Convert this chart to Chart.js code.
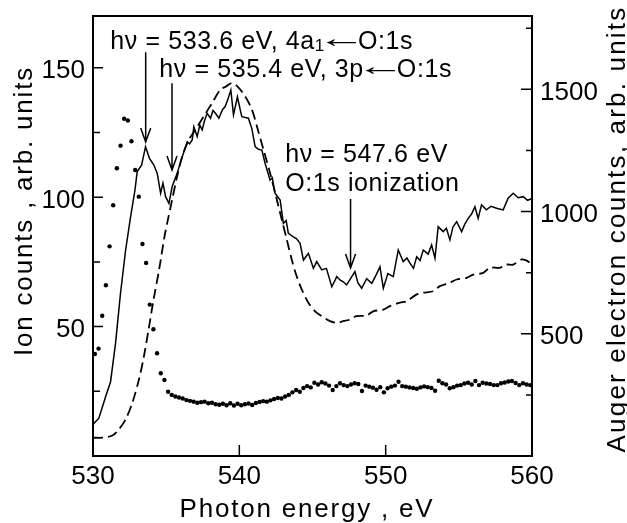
<!DOCTYPE html>
<html>
<head>
<meta charset="utf-8">
<script src="https://cdn.jsdelivr.net/npm/chart.js@4.4.0/dist/chart.umd.min.js"></script>
<style>
    html, body { margin: 0; padding: 0; background: #fff; }
    canvas { display: block; }
</style>
</head>
<body>
<canvas id="spectrum" width="627" height="523"></canvas>
<script>
// ---- Data ----

// Ion yield, solid line (left axis)
const ionE = [
    530.0, 530.4, 530.86, 531.2, 531.54, 531.88, 532.23, 532.57, 532.87, 533.02,
    533.32, 533.59, 533.86, 534.16, 534.39, 534.62, 534.78, 534.96, 535.19, 535.41,
    535.75, 536.1, 536.44, 536.6, 536.78, 536.89, 537.12, 537.3, 537.46, 537.62,
    537.8, 538.03, 538.2, 538.37, 538.6, 538.85, 539.03, 539.2, 539.42, 539.6,
    539.87, 540.05, 540.17, 540.4, 540.62, 540.85, 541.08, 541.3, 541.54, 541.76,
    542.1, 542.25, 542.44, 542.79, 543.01, 543.2, 543.35, 543.69, 543.9, 544.15,
    544.38, 544.72, 545.06, 545.29, 545.63, 545.95, 546.32, 546.66, 546.88, 547.1,
    547.33, 547.6, 547.9, 548.1, 548.36, 548.7, 549.05, 549.35, 549.61, 549.84,
    550.15, 550.52, 550.86, 551.2, 551.45, 551.66, 551.9, 552.12, 552.35, 552.57,
    552.9, 553.14, 553.37, 553.59, 553.93, 554.15, 554.39, 554.6, 554.85, 555.19,
    555.4, 555.64, 555.87, 556.1, 556.32, 556.55, 556.89, 557.2, 557.58, 558.03,
    558.37, 558.72, 559.05, 559.4, 559.7, 560.0
];
const ionCounts = [
    12.2, 14.6, 22.9, 28.7, 43.5, 62.9, 79.6, 92.5, 102.8, 109.9,
    112.4, 119.5, 115.0, 112.4, 109.2, 101.5, 105.4, 100.2, 97.6, 104.1,
    109.2, 115.6, 121.4, 120.6, 122.1, 127.2, 123.4, 127.8, 126.0, 129.5,
    132.4, 130.5, 133.5, 132.4, 130.5, 133.8, 135.0, 137.5, 141.4, 131.8,
    138.8, 134.0, 131.1, 130.8, 130.5, 126.6, 119.5, 118.5, 118.2, 113.1,
    106.6, 107.5, 101.5, 98.9, 89.9, 91.0, 86.0, 84.7, 84.0, 82.2,
    75.7, 78.3, 72.5, 75.1, 71.9, 72.5, 65.4, 69.3, 68.0, 67.3,
    66.1, 68.5, 71.2, 67.0, 64.8, 68.5, 66.7, 70.0, 73.1, 64.8,
    70.5, 69.3, 79.6, 75.1, 76.5, 74.5, 72.5, 77.0, 75.5, 79.6,
    78.0, 81.5, 76.4, 88.6, 86.7, 88.0, 83.5, 88.5, 90.5, 86.7,
    89.5, 91.8, 93.5, 96.3, 91.8, 97.0, 95.1, 96.5, 95.7, 95.1,
    99.6, 101.5, 99.8, 100.2, 98.8, 99.5
];

// Auger electron yield, dashed line (right axis)
const augerE = [
    530.0, 530.63, 531.32, 531.77, 532.23, 532.69, 533.14, 533.48, 533.8, 534.14,
    534.52, 534.89, 535.12, 535.41, 535.75, 536.1, 536.55, 537.0, 537.57, 538.14,
    538.71, 539.1, 539.49, 539.9, 540.4, 540.86, 541.2, 541.65, 542.1, 542.56,
    542.9, 543.24, 543.58, 543.92, 544.27, 544.72, 545.18, 545.63, 546.2, 546.66,
    547.0, 547.56, 548.0, 548.7, 549.15, 549.84, 550.29, 550.98, 551.43, 552.12,
    552.57, 553.25, 553.71, 554.39, 554.85, 555.53, 555.98, 556.66, 557.12, 557.8,
    558.26, 558.71, 559.29, 559.6, 559.86
];
const augerCounts = [
    75, 75, 84, 109, 150, 218, 313, 408, 518, 640,
    763, 899, 967, 1049, 1144, 1226, 1294, 1335, 1390, 1444,
    1499, 1512, 1526, 1510, 1471, 1417, 1349, 1253, 1158, 1049,
    967, 886, 804, 735, 681, 627, 592, 572, 552, 545,
    550, 558, 572, 575, 592, 599, 613, 627, 633, 661,
    668, 674, 695, 709, 722, 729, 742, 749, 770, 770,
    783, 783, 804, 800, 790
];

// Fragment ion yield, dots (left axis)
const dotE = [
    530.13, 530.38, 530.63, 530.88, 531.13, 531.38, 531.63, 531.88, 532.13, 532.38,
    532.63, 532.88, 533.13, 533.38, 533.63, 533.88, 534.13, 534.38, 534.63, 534.88,
    535.13, 535.38, 535.63, 535.88, 536.13, 536.38, 536.63, 536.88, 537.13, 537.38,
    537.63, 537.88, 538.13, 538.38, 538.63, 538.88, 539.13, 539.38, 539.63, 539.88,
    540.13, 540.38, 540.63, 540.88, 541.13, 541.38, 541.63, 541.88, 542.13, 542.38,
    542.63, 542.88, 543.13, 543.38, 543.63, 543.88, 544.13, 544.38, 544.63, 544.88,
    545.13, 545.38, 545.63, 545.88, 546.13, 546.38, 546.63, 546.88, 547.13, 547.38,
    547.63, 547.88, 548.13, 548.38, 548.63, 548.88, 549.13, 549.38, 549.63, 549.88,
    550.13, 550.38, 550.63, 550.88, 551.13, 551.38, 551.63, 551.88, 552.13, 552.38,
    552.63, 552.88, 553.13, 553.38, 553.63, 553.88, 554.13, 554.38, 554.63, 554.88,
    555.13, 555.38, 555.63, 555.88, 556.13, 556.38, 556.63, 556.88, 557.13, 557.38,
    557.63, 557.88, 558.13, 558.38, 558.63, 558.88, 559.13, 559.38, 559.63, 559.88
];
const dotCounts = [
    39.4, 41.5, 54.2, 66.0, 81.0, 96.9, 111.2, 119.9, 130.3, 129.6,
    121.6, 110.5, 100.2, 81.9, 74.6, 58.5, 49.0, 39.7, 32.0, 29.4,
    24.8, 23.6, 23.0, 22.6, 22.2, 21.6, 21.3, 21.0, 20.6, 20.8,
    21.0, 20.4, 20.6, 20.0, 19.8, 20.2, 19.6, 20.4, 19.5, 20.2,
    19.6, 20.0, 20.3, 19.7, 20.5, 20.9, 21.2, 21.0, 21.5, 22.0,
    22.4, 22.2, 23.0, 23.6, 24.6, 25.5, 24.8, 26.3, 27.0, 26.5,
    28.3, 27.6, 28.5, 28.0, 27.2, 25.5, 27.0, 28.1, 27.4, 27.0,
    27.6, 28.1, 27.8, 25.1, 27.2, 26.8, 26.4, 25.6, 26.6, 24.6,
    26.2, 26.8, 27.2, 28.7, 27.0, 26.8, 26.5, 26.3, 26.0, 26.5,
    26.9, 26.6, 26.3, 25.2, 29.1, 28.1, 27.6, 26.2, 26.6, 27.2,
    27.4, 28.0, 28.3, 27.6, 29.0, 27.4, 28.3, 28.0, 27.8, 27.4,
    27.4, 28.1, 28.4, 28.8, 29.0, 28.2, 27.4, 28.1, 27.6, 27.4
];

// Axis labels
const xTicks = [530, 540, 550, 560];
const ionTicks = [50, 100, 150];
const ionMinor = [25, 75, 125];
const augerTicks = [500, 1000, 1500];
const augerMinor = [250, 750, 1250, 1750];

// Arrows: energy, top and tip in ion-count units
const arrows = [
    { e: 533.6, from: 156, to: 121.3 },
    { e: 535.4, from: 144, to: 110.5 },
    { e: 547.6, from: 99.3, to: 72.6 }
];

const FONT = "'Liberation Sans', Arial, Helvetica, sans-serif";

const toXY = (xs, ys) => xs.map((x, i) => ({ x: x, y: ys[i] }));

// ---- Custom drawing: frame, inward ticks, labels, notes ----
const decorations = {
    id: 'decorations',
    afterDraw(chart) {
        const ctx = chart.ctx;
        const a = chart.chartArea;
        const xs = chart.scales.x;
        const yl = chart.scales.yIon;
        const yr = chart.scales.yAuger;

        ctx.save();
        ctx.strokeStyle = '#000';
        ctx.fillStyle = '#000';

        // frame
        ctx.lineWidth = 2;
        ctx.strokeRect(a.left, a.top, a.right - a.left, a.bottom - a.top);

        // inward tick marks
        ctx.lineWidth = 1.5;
        ctx.beginPath();
        [540, 550].forEach(v => {
            const px = xs.getPixelForValue(v);
            ctx.moveTo(px, a.bottom); ctx.lineTo(px, a.bottom - 11);
        });
        ionTicks.forEach(v => {
            const py = yl.getPixelForValue(v);
            ctx.moveTo(a.left, py); ctx.lineTo(a.left + 10, py);
        });
        ionMinor.forEach(v => {
            const py = yl.getPixelForValue(v);
            ctx.moveTo(a.left, py); ctx.lineTo(a.left + 7, py);
        });
        augerTicks.forEach(v => {
            const py = yr.getPixelForValue(v);
            ctx.moveTo(a.right, py); ctx.lineTo(a.right - 11, py);
        });
        augerMinor.forEach(v => {
            const py = yr.getPixelForValue(v);
            ctx.moveTo(a.right, py); ctx.lineTo(a.right - 6, py);
        });
        ctx.stroke();

        // tick labels
        ctx.letterSpacing = '0px';
        ctx.font = `26px ${FONT}`;
        ctx.textBaseline = 'alphabetic';
        ctx.textAlign = 'center';
        xTicks.forEach(v => ctx.fillText(String(v), xs.getPixelForValue(v), a.bottom + 28));
        ctx.textAlign = 'right';
        ionTicks.forEach(v => ctx.fillText(String(v), a.left - 8, yl.getPixelForValue(v) + 10.5));
        ctx.textAlign = 'left';
        augerTicks.forEach(v => ctx.fillText(String(v), a.right + 8, yr.getPixelForValue(v) + 10.5));

        // arrows
        ctx.lineWidth = 1.5;
        arrows.forEach(ar => {
            const px = xs.getPixelForValue(ar.e);
            const y0 = yl.getPixelForValue(ar.from);
            const y1 = yl.getPixelForValue(ar.to);
            ctx.beginPath();
            ctx.moveTo(px, y0); ctx.lineTo(px, y1);
            ctx.moveTo(px - 5, y1 - 14); ctx.lineTo(px, y1); ctx.lineTo(px + 5, y1 - 14);
            ctx.stroke();
        });

        // axis titles
        ctx.letterSpacing = '1.8px';
        ctx.font = `26px ${FONT}`;
        ctx.textAlign = 'center';
        ctx.fillText('Photon energy , eV', 307, 517);

        ctx.save();
        ctx.translate(32, 211);
        ctx.rotate(-Math.PI / 2);
        ctx.fillText('Ion counts , arb. units', 0, 0);
        ctx.restore();

        ctx.letterSpacing = '2.2px';
        ctx.save();
        ctx.translate(625, 229);
        ctx.rotate(-Math.PI / 2);
        ctx.fillText('Auger electron counts, arb. units', 0, 0);
        ctx.restore();

        // notes above the curves
        ctx.textAlign = 'left';
        const note = (parts, e, v) => {
            let x = xs.getPixelForValue(e);
            const y = yl.getPixelForValue(v);
            parts.forEach(p => {
                if (p.arrow) {
                    // thin left arrow glyph, stretched so its ink is 30px wide
                    ctx.letterSpacing = '0px';
                    ctx.font = `26px ${FONT}`;
                    const m = ctx.measureText('\u2190');
                    const ink = m.actualBoundingBoxLeft + m.actualBoundingBoxRight;
                    const sx = 30 / ink;
                    ctx.save();
                    ctx.translate(x + 2 + m.actualBoundingBoxLeft * sx, y - 2);
                    ctx.scale(sx, 1);
                    ctx.fillText('\u2190', 0, 0);
                    ctx.restore();
                    x += 33;
                    return;
                }
                ctx.letterSpacing = '0.6px';
                ctx.font = p.sub ? `17px ${FONT}` : `25px ${FONT}`;
                ctx.fillText(p.t, x, y + (p.sub ? 2 : 0));
                x += ctx.measureText(p.t).width;
            });
        };
        note([{ t: 'h\u03BD = 533.6 eV, 4a' }, { t: '1', sub: true }, { arrow: true }, { t: 'O:1s' }], 531.18, 157.3);
        note([{ t: 'h\u03BD = 535.4 eV, 3p' }, { arrow: true }, { t: 'O:1s' }], 534.53, 146.4);
        note([{ t: 'h\u03BD = 547.6 eV' }], 543.13, 113.6);
        note([{ t: 'O:1s ionization' }], 543.13, 102.4);

        ctx.restore();
    }
};

const ctx = document.getElementById('spectrum').getContext('2d');

const hiddenTicks = { display: false };

new Chart(ctx, {
    type: 'scatter',
    data: {
        datasets: [
            {
                label: 'ion',
                data: toXY(ionE, ionCounts),
                yAxisID: 'yIon',
                showLine: true,
                borderColor: '#000',
                borderWidth: 1.5,
                pointRadius: 0,
                tension: 0
            },
            {
                label: 'auger',
                data: toXY(augerE, augerCounts),
                yAxisID: 'yAuger',
                showLine: true,
                borderColor: '#000',
                borderWidth: 1.8,
                borderDash: [10, 5],
                pointRadius: 0,
                tension: 0.3
            },
            {
                label: 'fragment',
                data: toXY(dotE, dotCounts),
                yAxisID: 'yIon',
                showLine: false,
                pointRadius: 2.2,
                pointBackgroundColor: '#000',
                pointBorderWidth: 0
            }
        ]
    },
    options: {
        responsive: false,
        animation: false,
        layout: { padding: { top: 16, left: 0, right: 0, bottom: 0 } },
        plugins: { legend: { display: false }, tooltip: { enabled: false } },
        scales: {
            x: {
                type: 'linear',
                min: 530, max: 560,
                grid: { display: false, drawTicks: false },
                border: { display: false },
                ticks: hiddenTicks,
                afterFit: s => { s.height = 67; }
            },
            yIon: {
                type: 'linear',
                position: 'left',
                min: 0, max: 170,
                grid: { display: false, drawTicks: false },
                border: { display: false },
                ticks: hiddenTicks,
                afterFit: s => { s.width = 93; }
            },
            yAuger: {
                type: 'linear',
                position: 'right',
                min: 0, max: 1800,
                grid: { display: false, drawTicks: false },
                border: { display: false },
                ticks: hiddenTicks,
                afterFit: s => { s.width = 95; }
            }
        }
    },
    plugins: [decorations]
});
</script>
</body>
</html>
